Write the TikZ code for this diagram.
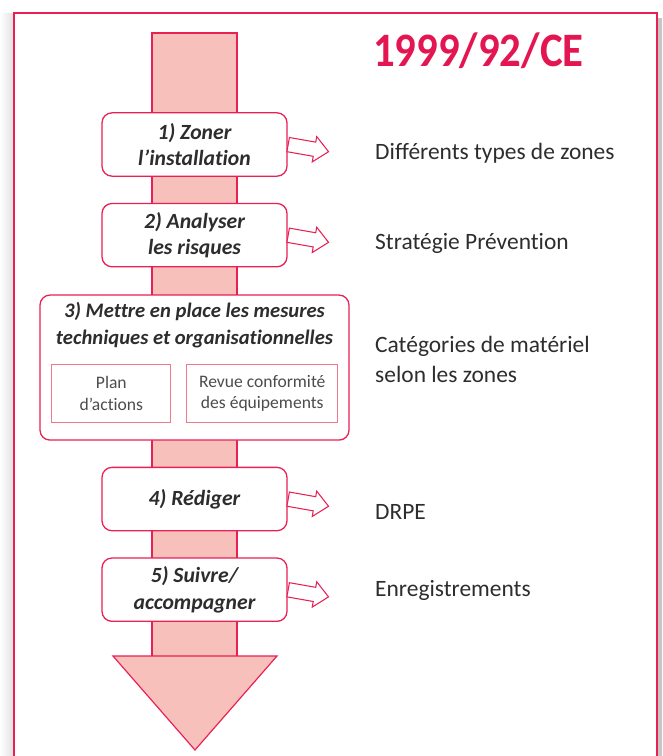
\documentclass[tikz,border=0pt]{standalone}
\usepackage{fontspec}
\setmainfont[Ligatures=NoCommon]{Carlito}
\newfontfamily\titlefont[FakeStretch=0.89]{Carlito}
\usetikzlibrary{shapes.arrows, positioning}

\definecolor{atexred}{RGB}{232,32,84}
\definecolor{titlered}{RGB}{228,22,82}
\definecolor{shaftpink}{RGB}{248,192,186}
\definecolor{subred}{RGB}{238,120,140}
\definecolor{labelgray}{RGB}{45,45,45}

\begin{document}
\begin{tikzpicture}[
      x=0.03cm, y=-0.03cm,
      node distance=0.78cm,
      stepbox/.style={rectangle, draw=atexred, line width=1.1pt, fill=white, rounded corners=0.3cm, minimum width=5.55cm, minimum height=1.9cm, align=center, text=labelgray, font=\fontsize{18.5}{22.5}\selectfont\bfseries\itshape},
      subbox/.style={rectangle, draw=subred, line width=0.8pt, fill=white, minimum height=1.74cm, align=center, text=labelgray!85, font=\fontsize{15}{18.5}\selectfont},
      outarrow/.style={single arrow, draw=atexred, fill=white, line width=0.9pt, minimum height=1.23cm, inner sep=0.2cm, single arrow head extend=0.17cm, single arrow tip angle=84, rotate=-10, anchor=tail},
      result/.style={anchor=base west, inner sep=0pt, align=left, text=labelgray, font=\fontsize{20}{25.5}\selectfont},
      pinkline/.style={draw=atexred, line width=1pt, fill=shaftpink}
      ]

      % Page frame with its shadow
      \clip (0,0) rectangle (662,756);
      \shade[left color=white, right color=gray!25] (0,13) rectangle (14,800);
      \fill[gray!45] (657,18) rectangle (662,800);
      \draw[atexred, line width=1.2pt, fill=white] (14,13) rectangle (657,800);

      % Big arrow behind the steps
      \draw[pinkline] (152,33) rectangle (237,660);
      \draw[pinkline, line join=miter] (113,656) -- (277,656) -- (195,750) -- cycle;

      % Title
      \node[anchor=base west, inner sep=0pt, text=titlered, font=\titlefont\bfseries\fontsize{41}{44}\selectfont] (directive) at (373,66) {1999/92/CE};

      % Steps
      \node[stepbox] (zoner) at (194.5,144.5) {1) Zoner\\l’installation};
      \node[stepbox, below=of zoner] (analyser) {2) Analyser\\les risques};
      \node[stepbox, below=0.81cm of analyser, minimum width=9.27cm, minimum height=4.35cm] (mesures) {};
      \node[below=0.22cm of mesures.north, inner sep=0pt, align=center, text=labelgray, font=\fontsize{17.6}{23}\selectfont\bfseries\itshape] (mesurestitle) {3) Mettre en place les mesures\\techniques et organisationnelles};
      \node[subbox, minimum width=3.57cm, above right=0.54cm and 0.36cm of mesures.south west, anchor=south west] (plan) {Plan\\d’actions};
      \node[subbox, minimum width=4.53cm, right=0.45cm of plan] (revue) {Revue conformité\\des équipements};
      \node[stepbox, below=of mesures] (rediger) {4) Rédiger};
      \node[stepbox, below=of rediger] (suivre) {5) Suivre/\\accompagner};

      % Outgoing arrows
      \node[outarrow] (arrzoner) at (zoner.east) {};
      \node[outarrow] (arranalyser) at (analyser.east) {};
      \node[outarrow] (arrrediger) at (rediger.east) {};
      \node[outarrow] (arrsuivre) at (suivre.east) {};

      % Results
      \node[result] (zones) at (375,159) {Différents types de zones};
      \node[result] (strategie) at (375,249) {Stratégie Prévention};
      \node[result] (categories) at (375,382) {Catégories de matériel\\selon les zones};
      \node[result] (drpe) at (375,519) {DRPE};
      \node[result] (enreg) at (375,596) {Enregistrements};

   \end{tikzpicture}
\end{document}
